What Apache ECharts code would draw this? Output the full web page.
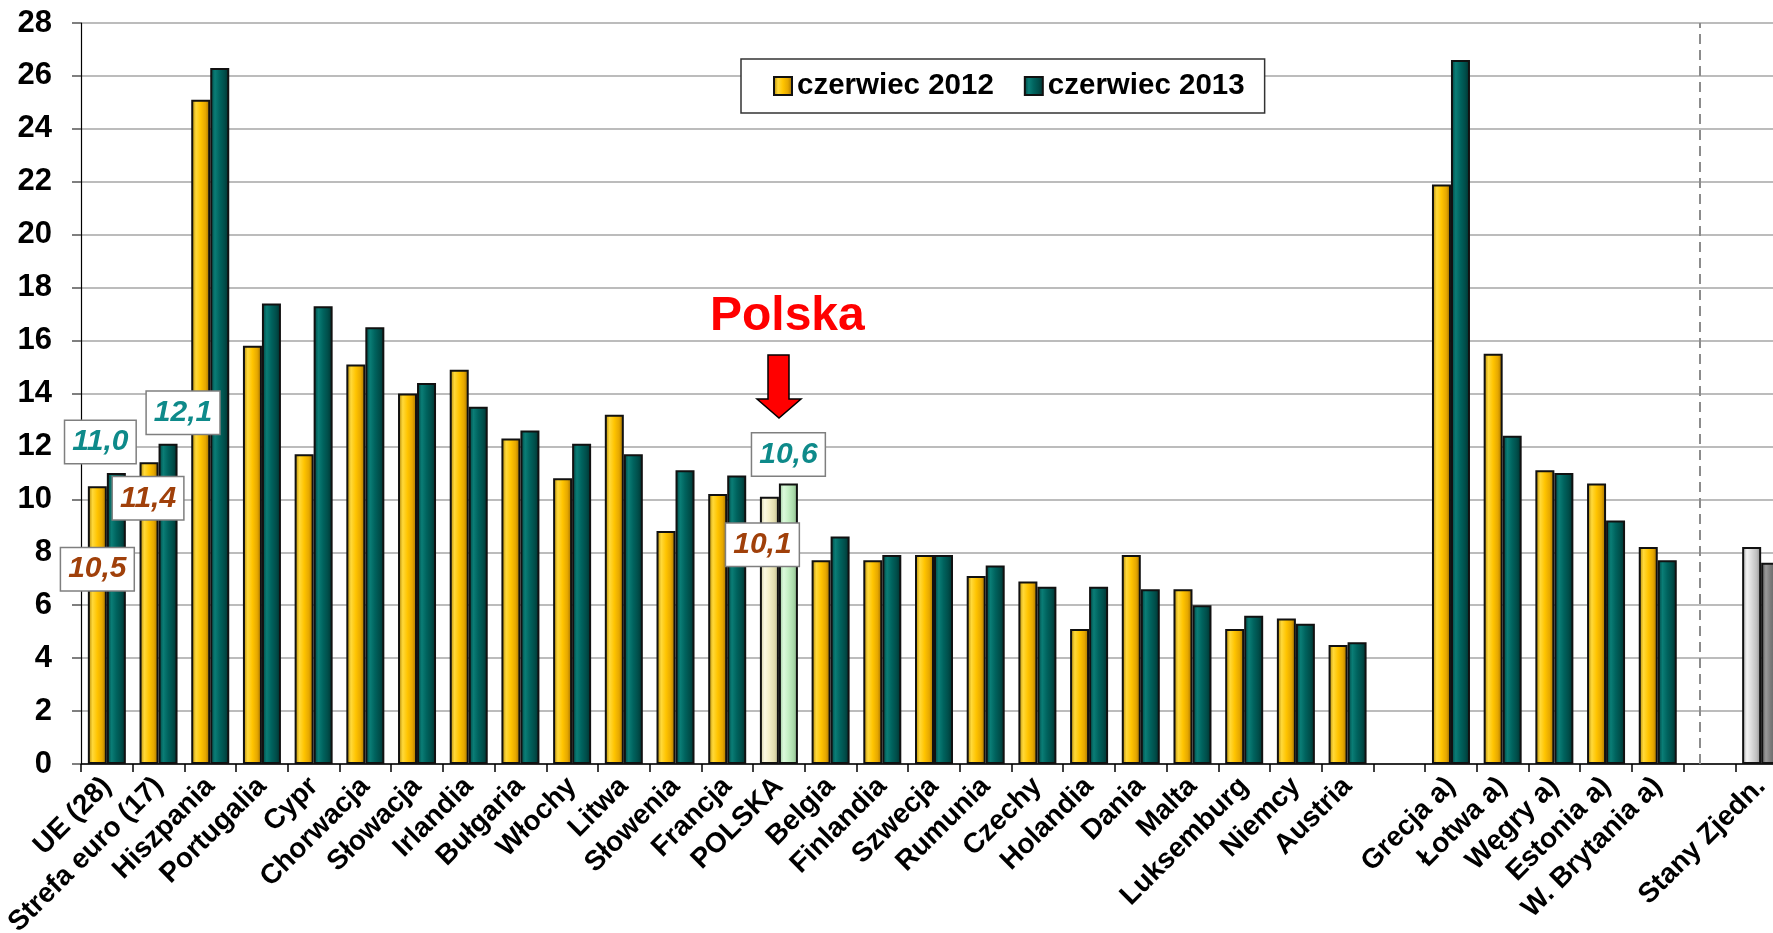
<!DOCTYPE html>
<html>
<head>
<meta charset="utf-8">
<script src="https://cdn.jsdelivr.net/npm/echarts@6/dist/echarts.min.js"></script>
<style>
    html, body { margin: 0; padding: 0; background: #fff; }
    #chart { width: 1773px; height: 933px; }
</style>
</head>
<body>
<div id="chart"></div>
<script>
var categories = ['UE (28)', 'Strefa euro (17)', 'Hiszpania', 'Portugalia', 'Cypr', 'Chorwacja',
    'Słowacja', 'Irlandia', 'Bułgaria', 'Włochy', 'Litwa', 'Słowenia', 'Francja', 'POLSKA',
    'Belgia', 'Finlandia', 'Szwecja', 'Rumunia', 'Czechy', 'Holandia', 'Dania', 'Malta',
    'Luksemburg', 'Niemcy', 'Austria', '', 'Grecja a)', 'Łotwa a)', 'Węgry a)', 'Estonia a)',
    'W. Brytania a)', ' ', 'Stany Zjedn.'];

var june2012 = [10.5, 11.4, 25.1, 15.8, 11.7, 15.1, 14.0, 14.9, 12.3, 10.8, 13.2, 8.8, 10.2, 10.1,
    7.7, 7.7, 7.9, 7.1, 6.9, 5.1, 7.9, 6.6, 5.1, 5.5, 4.5, null, 21.9, 15.5, 11.1, 10.6, 8.2, null, 8.2];

var june2013 = [11.0, 12.1, 26.3, 17.4, 17.3, 16.5, 14.4, 13.5, 12.6, 12.1, 11.7, 11.1, 10.9, 10.6,
    8.6, 7.9, 7.9, 7.5, 6.7, 6.7, 6.6, 6.0, 5.6, 5.3, 4.6, null, 26.6, 12.4, 11.0, 9.2, 7.7, null, 7.6];

var seriesNames = ['czerwiec 2012', 'czerwiec 2013'];
var yTicks = { min: 0, max: 28, step: 2 };

var polskaIndex = 13;
var usaIndex = 32;
var separatorIndex = 31;

// label boxes: index -> offset of the box against the bar top
var labels2012 = { 0: [0, 104], 1: [-1, 57], 13: [-7, 69] };
var labels2013 = { 0: [-16, -10], 1: [15, -10], 13: [0, -8] };

var font = '"Liberation Sans", Arial, sans-serif';

function bevel(stops) {
    return new echarts.graphic.LinearGradient(0, 0, 1, 0, stops.map(function (c, i) {
        return { offset: i / (stops.length - 1), color: c };
    }));
}

var yellow = bevel(['#a87c00', '#ffd93a', '#ffc400', '#e6a800', '#9a6a00']);
var teal = bevel(['#003f3c', '#0a7d76', '#00635e', '#004e4a', '#002f2d']);
var paleYellow = bevel(['#c9c59a', '#fbf9e2', '#f3efc8', '#e4dfb0', '#b9b48a']);
var paleGreen = bevel(['#94c294', '#dcfadc', '#c4efc4', '#acdcac', '#86b286']);
var lightGray = bevel(['#9a9a9a', '#f4f4f4', '#dadada', '#c0c0c0', '#8a8a8a']);
var darkGray = bevel(['#4a4a4a', '#9a9a9a', '#7a7a7a', '#646464', '#444444']);

function boxLabel(value, offset, color) {
    return {
        show: true,
        position: 'top',
        distance: 0,
        offset: offset,
        formatter: value.toFixed(1).replace('.', ','),
        fontFamily: font,
        fontSize: 30,
        fontStyle: 'italic',
        fontWeight: 'bold',
        color: color,
        backgroundColor: '#ffffff',
        borderColor: '#7f7f7f',
        borderWidth: 1.5,
        padding: [6, 7, 6, 7]
    };
}

function buildData(values, boxes, boxColor, special) {
    return values.map(function (v, i) {
        var item = { value: v };
        if (boxes[i]) {
            item.label = boxLabel(v, boxes[i], boxColor);
        }
        if (special[i]) {
            item.itemStyle = { color: special[i] };
        }
        return item;
    });
}

var special2012 = {};
special2012[polskaIndex] = paleYellow;
special2012[usaIndex] = lightGray;
var special2013 = {};
special2013[polskaIndex] = paleGreen;
special2013[usaIndex] = darkGray;

var chart = echarts.init(document.getElementById('chart'));

chart.setOption({
    animation: false,
    backgroundColor: '#ffffff',
    // the last category runs past the right edge, as in the source picture
    grid: { left: 81, width: 1706, top: 23, bottom: 169, outerBoundsMode: 'none', containLabel: false },
    legend: {
        left: 741,
        top: 59,
        padding: [12, 20, 12, 32],
        itemGap: 30,
        itemWidth: 18,
        itemHeight: 18,
        icon: 'rect',
        backgroundColor: '#ffffff',
        borderColor: '#333333',
        borderWidth: 1.5,
        borderRadius: 0,
        textStyle: { fontFamily: font, fontSize: 29.5, fontWeight: 'bold', color: '#000' },
        data: seriesNames
    },
    xAxis: {
        type: 'category',
        data: categories,
        axisLine: { lineStyle: { color: '#000', width: 1.5 } },
        axisTick: { show: true, length: 8, lineStyle: { color: '#000', width: 1.5 } },
        axisLabel: {
            interval: 0,
            rotate: 45,
            margin: 18,
            fontFamily: font,
            fontSize: 28,
            fontWeight: 'bold',
            color: '#000'
        }
    },
    yAxis: {
        type: 'value',
        min: yTicks.min,
        max: yTicks.max,
        interval: yTicks.step,
        axisLine: { show: true, lineStyle: { color: '#000', width: 1.2 } },
        axisTick: { show: true, length: 9, lineStyle: { color: '#555', width: 1.5 } },
        splitLine: { lineStyle: { color: '#a6a6a6', width: 1.5 } },
        axisLabel: {
            margin: 29,
            fontFamily: font,
            fontSize: 31,
            fontWeight: 'bold',
            color: '#000'
        }
    },
    series: [{
        name: seriesNames[0],
        type: 'bar',
        barWidth: 19,
        barGap: '0%',
        itemStyle: { color: yellow, borderColor: '#111', borderWidth: 2 },
        data: buildData(june2012, labels2012, '#a0400a', special2012),
        markLine: {
            silent: true,
            symbol: 'none',
            label: { show: false },
            lineStyle: { color: '#8c8c8c', width: 2, type: [10, 6] },
            data: [{ xAxis: separatorIndex }]
        }
    }, {
        name: seriesNames[1],
        type: 'bar',
        barWidth: 19,
        itemStyle: { color: teal, borderColor: '#111', borderWidth: 2 },
        data: buildData(june2013, labels2013, '#0e8a8a', special2013)
    }],
    graphic: [{
        type: 'text',
        left: 710,
        top: 293,
        z: 100,
        style: {
            text: 'Polska',
            font: 'bold 48px ' + font,
            fill: '#ff0000'
        }
    }, {
        type: 'polygon',
        z: 100,
        shape: {
            points: [[768, 355], [789, 355], [789, 399], [801, 399], [779, 418], [757, 399], [768, 399]]
        },
        style: { fill: '#ff0000', stroke: '#000', lineWidth: 1.5 }
    }]
});
</script>
</body>
</html>
